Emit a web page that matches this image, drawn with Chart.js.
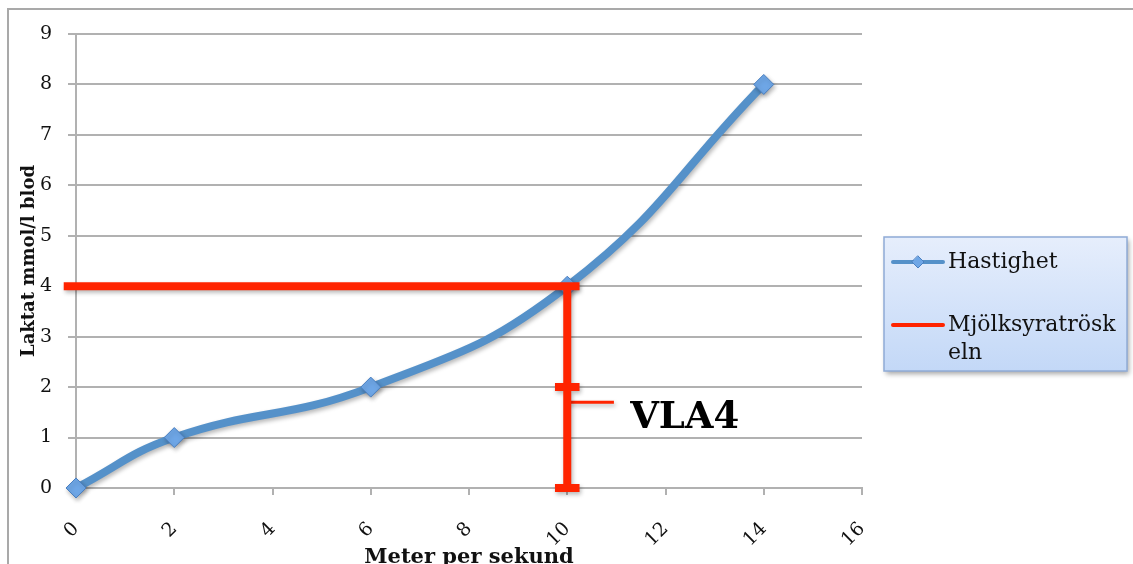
<!DOCTYPE html>
<html>
<head>
<meta charset="utf-8">
<script src="https://cdn.jsdelivr.net/npm/chart.js@4.4.1/dist/chart.umd.min.js"></script>
<style>
  html, body { margin: 0; padding: 0; background: #fff; overflow: hidden; }
  #wrap { width: 1133px; height: 564px; position: relative; }
</style>
</head>
<body>
<div id="wrap"><canvas id="c" width="1133" height="564"></canvas></div>
<script>
// Measured lactate against running speed
const speeds = [0, 2, 6, 10, 14];          // m/s
const lactate = [0, 1, 2, 4, 8];           // mmol/l
const seriesNames = ['Hastighet', 'Mjölksyratröskeln'];

// Lactate threshold (4 mmol/l) and the speed where it is reached
const thresholdLactate = 4;
const thresholdSpeed = 10;
const thresholdMid = 2;
const vlaLabel = 'VLA4';
const vlaPointerLactate = 1.7;

const xTicks = [0, 2, 4, 6, 8, 10, 12, 14, 16];
const yTicks = [0, 1, 2, 3, 4, 5, 6, 7, 8, 9];
const xTitle = 'Meter per sekund';
const yTitle = 'Laktat mmol/l blod';

// ---- styling ----
const BLUE = '#5591c9';
const RED = '#ff2400';
const GRID = '#b1b1b1';
const SERIF = '"DejaVu Serif", serif';
const capHalf = 0.25;

const curvePoints = speeds.map((s, i) => ({ x: s, y: lactate[i] }));

// threshold marker: horizontal at 4 mmol/l, vertical down to the axis, with caps
const gap = { x: thresholdSpeed, y: null };
const thresholdPoints = [
  { x: xTicks[0] - capHalf, y: thresholdLactate }, { x: thresholdSpeed + capHalf, y: thresholdLactate }, gap,
  { x: thresholdSpeed, y: thresholdLactate }, { x: thresholdSpeed, y: 0 }, gap,
  { x: thresholdSpeed - capHalf, y: thresholdMid }, { x: thresholdSpeed + capHalf, y: thresholdMid }, gap,
  { x: thresholdSpeed - capHalf, y: 0 }, { x: thresholdSpeed + capHalf, y: 0 }
];
const pointerPoints = [
  { x: thresholdSpeed, y: vlaPointerLactate }, { x: thresholdSpeed + 0.95, y: vlaPointerLactate }
];

const frame = {
  id: 'frame',
  beforeDraw(chart) {
    const ctx = chart.ctx;
    ctx.save();
    ctx.fillStyle = '#fff';
    ctx.fillRect(0, 0, chart.width, chart.height);
    ctx.strokeStyle = '#a9a9a9';
    ctx.lineWidth = 2;
    ctx.beginPath();
    ctx.moveTo(8, chart.height + 5);
    ctx.lineTo(8, 9);
    ctx.lineTo(chart.width + 5, 9);
    ctx.stroke();
    ctx.restore();
  }
};

const shadow = {
  id: 'shadow',
  beforeDatasetDraw(chart) {
    const ctx = chart.ctx;
    ctx.save();
    ctx.shadowColor = 'rgba(0,0,0,0.28)';
    ctx.shadowBlur = 4;
    ctx.shadowOffsetX = 1.5;
    ctx.shadowOffsetY = 2.5;
  },
  afterDatasetDraw(chart) { chart.ctx.restore(); }
};

const vlaText = {
  id: 'vlaText',
  afterDatasetsDraw(chart) {
    const { ctx, scales: { x, y } } = chart;
    ctx.save();
    ctx.font = 'bold 37px ' + SERIF;
    ctx.fillStyle = '#000';
    ctx.textAlign = 'left';
    ctx.textBaseline = 'middle';
    ctx.fillText(vlaLabel, x.getPixelForValue(11.28), y.getPixelForValue(1.38));
    ctx.restore();
  }
};

function wrapChars(ctx, text, maxW) {
  const lines = [];
  let cur = '';
  for (const ch of text) {
    if (cur && ctx.measureText(cur + ch).width > maxW) { lines.push(cur); cur = ch; }
    else cur += ch;
  }
  if (cur) lines.push(cur);
  return lines;
}

const boxLegend = {
  id: 'boxLegend',
  afterDraw(chart) {
    const ctx = chart.ctx;
    const bx = 884, by = 237, bw = 243, bh = 134;
    ctx.save();
    ctx.shadowColor = 'rgba(0,0,0,0.35)';
    ctx.shadowBlur = 5;
    ctx.shadowOffsetX = 2;
    ctx.shadowOffsetY = 3;
    const g = ctx.createLinearGradient(0, by, 0, by + bh);
    g.addColorStop(0, '#e6eefc');
    g.addColorStop(1, '#c3d8f7');
    ctx.fillStyle = g;
    ctx.fillRect(bx, by, bw, bh);
    ctx.restore();
    ctx.save();
    ctx.strokeStyle = '#8fabd6';
    ctx.lineWidth = 1.5;
    ctx.strokeRect(bx, by, bw, bh);

    ctx.font = '22px ' + SERIF;
    ctx.textAlign = 'left';
    ctx.textBaseline = 'middle';
    const items = chart.data.datasets.filter(d => d.inLegend);
    const rows = [262, 325];
    items.forEach((d, i) => {
      const yy = rows[i];
      ctx.strokeStyle = d.borderColor;
      ctx.lineWidth = 4;
      ctx.lineCap = 'round';
      ctx.beginPath();
      ctx.moveTo(893, yy);
      ctx.lineTo(943, yy);
      ctx.stroke();
      if (d.pointRadius > 0) {
        ctx.fillStyle = d.pointBackgroundColor;
        ctx.strokeStyle = d.pointBorderColor;
        ctx.lineWidth = 1;
        ctx.beginPath();
        ctx.moveTo(918, yy - 6); ctx.lineTo(924, yy); ctx.lineTo(918, yy + 6); ctx.lineTo(912, yy);
        ctx.closePath();
        ctx.fill(); ctx.stroke();
      }
      ctx.fillStyle = '#111';
      const lines = wrapChars(ctx, d.label, 172);
      lines.forEach((ln, k) => ctx.fillText(ln, 948, yy + k * 28));
    });
    ctx.restore();
  }
};

new Chart(document.getElementById('c'), {
  type: 'scatter',
  data: {
    datasets: [
      {
        label: seriesNames[0],
        inLegend: true,
        data: curvePoints,
        showLine: true,
        tension: 0.45,
        borderColor: BLUE,
        borderWidth: 8,
        pointStyle: 'rectRot',
        pointRadius: 10,
        pointHoverRadius: 10,
        pointBackgroundColor: '#6ea6e6',
        pointBorderColor: '#4a7fc0',
        pointBorderWidth: 1,
        clip: false,
        order: 3
      },
      {
        label: seriesNames[1],
        inLegend: true,
        data: thresholdPoints,
        showLine: true,
        spanGaps: false,
        borderColor: RED,
        borderWidth: 8,
        borderCapStyle: 'butt',
        pointRadius: 0,
        pointHoverRadius: 0,
        clip: false,
        order: 1
      },
      {
        label: 'pointer',
        data: pointerPoints,
        showLine: true,
        borderColor: RED,
        borderWidth: 3,
        pointRadius: 0,
        pointHoverRadius: 0,
        order: 2
      }
    ]
  },
  options: {
    responsive: false,
    animation: false,
    events: [],
    layout: { padding: { top: 34, right: 271, left: 0, bottom: 0 } },
    plugins: { legend: { display: false }, tooltip: { enabled: false } },
    scales: {
      x: {
        type: 'linear',
        min: xTicks[0],
        max: xTicks[xTicks.length - 1],
        afterBuildTicks: s => { s.ticks = xTicks.map(v => ({ value: v })); },
        afterFit: s => { s.height = 76; },
        grid: { drawOnChartArea: false, drawTicks: true, tickLength: 7, color: GRID, lineWidth: 2 },
        border: { color: GRID, width: 2 },
        ticks: {
          autoSkip: false,
          maxRotation: 45,
          minRotation: 45,
          padding: 23,
          color: '#111',
          font: { family: SERIF, size: 19 }
        },
        title: {
          display: true,
          text: xTitle,
          color: '#111',
          font: { family: SERIF, size: 21, weight: 'bold', lineHeight: 1 },
          padding: { top: 0, bottom: -4 }
        }
      },
      y: {
        min: yTicks[0],
        max: yTicks[yTicks.length - 1],
        afterBuildTicks: s => { s.ticks = yTicks.map(v => ({ value: v })); },
        afterFit: s => { s.width = 76; },
        grid: { color: GRID, lineWidth: 2, tickLength: 8 },
        border: { color: GRID, width: 2 },
        ticks: {
          padding: 16,
          color: '#111',
          font: { family: SERIF, size: 19 }
        },
        title: {
          display: true,
          text: yTitle,
          color: '#111',
          font: { family: SERIF, size: 18, weight: 'bold', lineHeight: 1 },
          padding: { top: 20, bottom: 0 }
        }
      }
    }
  },
  plugins: [frame, shadow, vlaText, boxLegend]
});
</script>
</body>
</html>
